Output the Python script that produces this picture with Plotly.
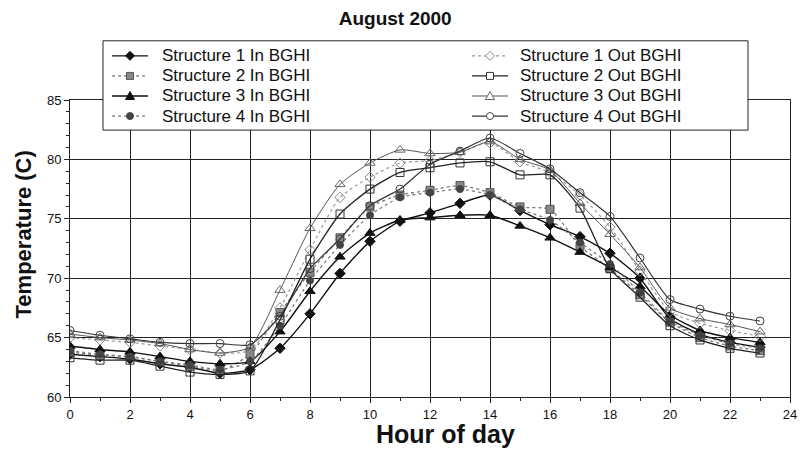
import plotly.graph_objects as go

hours = list(range(24))

s1_in = [63.6, 63.4, 63.2, 62.8, 62.5, 62.0, 62.3, 64.1, 67.0, 70.4, 73.1, 74.8, 75.5, 76.3, 77.0, 75.7, 74.5, 73.5, 72.1, 70.0, 66.6, 65.3, 64.6, 64.2]
s2_in = [63.8, 63.5, 63.4, 63.0, 62.6, 62.2, 63.6, 67.1, 70.5, 73.4, 76.0, 77.0, 77.4, 77.8, 77.2, 76.0, 75.8, 72.7, 70.8, 68.6, 66.3, 65.0, 64.3, 63.9]
s3_in = [64.3, 64.0, 63.8, 63.4, 63.0, 62.8, 63.0, 65.5, 68.9, 71.8, 73.8, 74.9, 75.1, 75.3, 75.3, 74.4, 73.4, 72.2, 70.9, 69.3, 66.9, 65.6, 65.0, 64.6]
s4_in = [63.9, 63.6, 63.4, 63.0, 62.7, 62.3, 63.0, 66.0, 69.8, 72.8, 75.3, 76.8, 77.2, 77.5, 77.0, 75.8, 74.9, 73.0, 71.2, 68.8, 66.4, 65.2, 64.5, 64.1]
s1_out = [65.0, 64.8, 64.6, 64.3, 64.0, 63.7, 63.9, 67.5, 72.4, 76.8, 78.5, 79.7, 79.9, 80.6, 81.4, 79.8, 78.9, 77.0, 74.3, 70.6, 67.2, 66.2, 65.6, 65.1]
s2_out = [63.3, 63.1, 63.1, 62.6, 62.1, 61.9, 62.2, 66.5, 71.6, 75.4, 77.5, 78.9, 79.3, 79.7, 79.8, 78.7, 78.7, 75.9, 70.8, 68.4, 66.0, 64.8, 64.1, 63.7]
s3_out = [65.3, 65.0, 64.8, 64.5, 64.0, 63.7, 64.2, 69.0, 74.2, 77.9, 79.7, 80.8, 80.5, 80.6, 81.5, 80.0, 79.1, 76.3, 73.7, 70.9, 67.5, 66.6, 66.1, 65.5]
s4_out = [65.6, 65.2, 64.9, 64.6, 64.5, 64.5, 64.4, 66.8, 70.8, 73.3, 76.1, 77.5, 79.6, 80.7, 81.8, 80.5, 79.2, 77.2, 75.2, 71.7, 68.2, 67.4, 66.8, 66.4]

names_in = ["Structure 1 In BGHI", "Structure 2 In BGHI", "Structure 3 In BGHI", "Structure 4 In BGHI"]
names_out = ["Structure 1 Out BGHI", "Structure 2 Out BGHI", "Structure 3 Out BGHI", "Structure 4 Out BGHI"]

x_ticks = list(range(0, 25, 2))
y_ticks = list(range(60, 86, 5))

# style per series: (line color, width, dash, marker symbol, marker fill, marker edge, size)
styles = {
    names_in[0]: ("#111", 1.4, "solid", "diamond", "#111", "#111", 8),
    names_in[1]: ("#777", 1.3, "dot", "square", "#888", "#555", 8),
    names_in[2]: ("#111", 1.4, "solid", "triangle-up", "#111", "#111", 9),
    names_in[3]: ("#777", 1.2, "dot", "circle", "#444", "#444", 7),
    names_out[0]: ("#999", 1.2, "dot", "diamond-open", "white", "#888", 8),
    names_out[1]: ("#222", 1.3, "solid", "square-open", "white", "#333", 8),
    names_out[2]: ("#555", 1.0, "solid", "triangle-up-open", "white", "#666", 9),
    names_out[3]: ("#333", 1.2, "solid", "circle-open", "white", "#444", 8),
}
values = {
    names_in[0]: s1_in, names_in[1]: s2_in, names_in[2]: s3_in, names_in[3]: s4_in,
    names_out[0]: s1_out, names_out[1]: s2_out, names_out[2]: s3_out, names_out[3]: s4_out,
}

fig = go.Figure()
for name in names_in + names_out:
    lc, lw, dash, sym, fill, edge, size = styles[name]
    fig.add_trace(go.Scatter(
        x=hours, y=values[name], name=name, mode="lines+markers", showlegend=False,
        line=dict(shape="spline", smoothing=0.6, color=lc, width=lw, dash=dash),
        marker=dict(symbol=sym, color=edge if "open" in sym else fill, size=size,
                    line=dict(color=edge, width=1)),
    ))

# ---- legend drawn as a boxed two-column key (paper coordinates) ----
def px_x(px):
    return (px - 70) / 720.0

def px_y(py):
    return (397 - py) / 296.0

shapes = [dict(type="rect", xref="paper", yref="paper", x0=px_x(103), x1=px_x(748),
               y0=px_y(131), y1=px_y(42), fillcolor="white", line=dict(color="#222", width=1),
               layer="above")]
annotations = []
rows_py = [57, 77, 97, 117]
cols = [(names_in, 112, 148, 130, 160), (names_out, 472, 508, 490, 518)]

def marker_shape(sym, fill, edge, xa, ya):
    base = dict(xref="paper", yref="paper", xsizemode="pixel", ysizemode="pixel",
                xanchor=xa, yanchor=ya, layer="above",
                line=dict(color=edge, width=1), fillcolor=fill)
    kind = sym.replace("-open", "")
    if kind == "circle":
        base.update(type="circle", x0=-3.5, x1=3.5, y0=-3.5, y1=3.5)
    elif kind == "square":
        base.update(type="rect", x0=-3.5, x1=3.5, y0=-3.5, y1=3.5)
    elif kind == "diamond":
        base.update(type="path", path="M 0 4.5 L 4.5 0 L 0 -4.5 L -4.5 0 Z")
    else:
        base.update(type="path", path="M 0 4.5 L 4.5 -3.5 L -4.5 -3.5 Z")
    return base

for names, lx0, lx1, mx, tx in cols:
    for name, py in zip(names, rows_py):
        lc, lw, dash, sym, fill, edge, size = styles[name]
        shapes.append(dict(type="line", xref="paper", yref="paper", x0=px_x(lx0), x1=px_x(lx1),
                           y0=px_y(py), y1=px_y(py), layer="above",
                           line=dict(color=lc, width=lw, dash=dash)))
        shapes.append(marker_shape(sym, fill, edge, px_x(mx), px_y(py)))
        annotations.append(dict(text=name, xref="paper", yref="paper", x=px_x(tx), y=px_y(py),
                                xanchor="left", yanchor="middle", showarrow=False,
                                font=dict(size=17, color="#111")))

# axis titles, placed as in the original
annotations.append(dict(text="<b>Hour of day</b>", xref="paper", yref="paper",
                        x=px_x(445), y=px_y(434), xanchor="center", yanchor="middle",
                        showarrow=False, font=dict(size=25, color="#111")))
annotations.append(dict(text="<b>Temperature (C)</b>", xref="paper", yref="paper",
                        x=px_x(23), y=px_y(235), xanchor="center", yanchor="middle",
                        textangle=-90, showarrow=False, font=dict(size=22, color="#111")))

font_family = "Liberation Sans, Arial, sans-serif"
fig.update_layout(
    width=800, height=441,
    margin=dict(l=62, r=18, t=92, b=52),
    paper_bgcolor="white", plot_bgcolor="white",
    font=dict(family=font_family, color="#111", size=13),
    title=dict(text="<b>August 2000</b>", x=0.484, xanchor="center", y=0.977, yanchor="middle",
               font=dict(size=19, family=font_family, color="#111")),
    showlegend=False,
    shapes=shapes,
    annotations=annotations,
    xaxis=dict(
        range=[0, 24], tickvals=x_ticks, showgrid=True, gridcolor="#222", gridwidth=1,
        showline=True, linecolor="#222", linewidth=1, mirror=True,
        ticks="outside", ticklen=5, tickcolor="#222",
        minor=dict(dtick=1, ticks="outside", ticklen=3, tickcolor="#222", showgrid=False),
        tickfont=dict(size=13),
        zeroline=False,
    ),
    yaxis=dict(
        range=[60, 85], tickvals=y_ticks, showgrid=True, gridcolor="#222", gridwidth=1,
        showline=True, linecolor="#222", linewidth=1, mirror=True,
        ticks="outside", ticklen=5, tickcolor="#222",
        minor=dict(dtick=1, ticks="outside", ticklen=3, tickcolor="#222", showgrid=False),
        tickfont=dict(size=13),
        zeroline=False,
    ),
)

fig.write_html("out.html")
